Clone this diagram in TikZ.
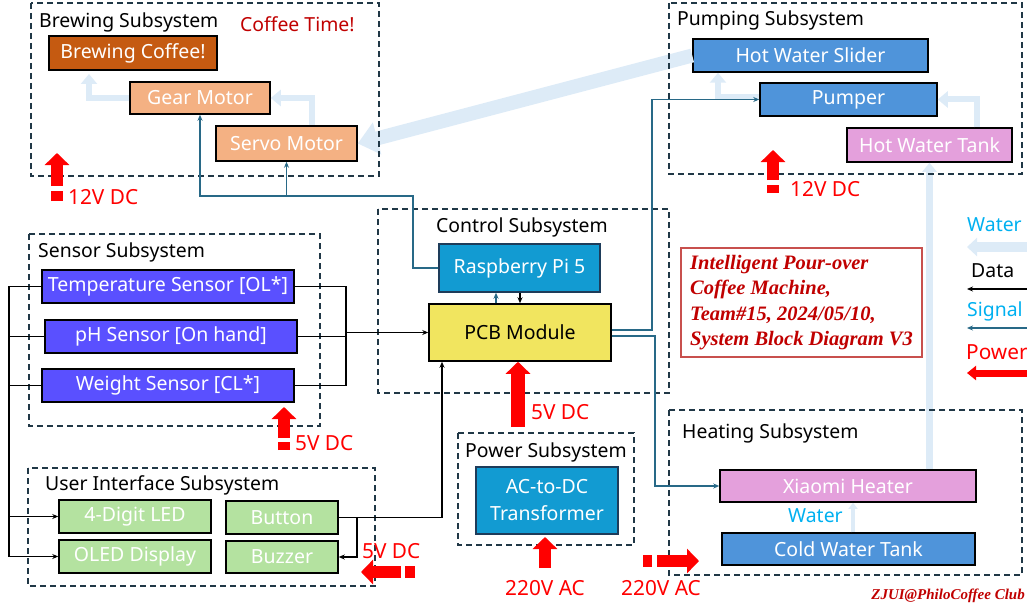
\documentclass[tikz,border=0pt]{standalone}
\usepackage{fontspec}
\setmainfont{Noto Sans}
\newfontfamily\infofont{Liberation Serif}
\usepackage{tikz}
\usetikzlibrary{arrows.meta}
\usepackage{xcolor}
\definecolor{cafe}{RGB}{197, 90, 17}
\definecolor{salmao}{RGB}{244, 177, 131}
\definecolor{azul}{RGB}{79, 148, 218}
\definecolor{rosa}{RGB}{228, 160, 220}
\definecolor{roxo}{RGB}{90, 80, 255}
\definecolor{ciano}{RGB}{18, 155, 210}
\definecolor{azulesc}{RGB}{30, 60, 90}
\definecolor{amarelo}{RGB}{241, 229, 95}
\definecolor{verde}{RGB}{180, 226, 160}
\definecolor{moldura}{RGB}{32, 55, 70}
\definecolor{vinho}{RGB}{192, 0, 0}
\definecolor{vermelhoclaro}{RGB}{200, 80, 77}
\definecolor{aguaclara}{RGB}{221, 235, 247}
\definecolor{aguatxt}{RGB}{0, 176, 240}
\definecolor{sinalcor}{RGB}{40, 105, 135}
\tikzset{
  agua/.style={draw=aguaclara, line width=6pt, -{Triangle[length=10pt, width=16pt]}},
  sinal/.style={draw=sinalcor, line width=1.3pt, -{Stealth[length=6pt, width=5pt]}},
  dados/.style={draw=black, line width=1.3pt, -{Stealth[length=6pt, width=5pt]}},
  energia/.style={draw=red, line width=12pt, -{Triangle[length=12pt, width=24pt]}},
}

\begin{document}
\begin{tikzpicture}[
    x=1pt, y=-1pt,
    caixa/.style={
        draw,
        line width=1.5pt,
        inner sep=0pt,
        minimum height=33pt,
        text=white,
        font=\fontsize{19.5}{27}\selectfont
    },
    titulo/.style={
        anchor=west,
        inner sep=0pt,
        font=\fontsize{19.4}{22}\selectfont
    },
    rotulo/.style={
        anchor=west,
        inner sep=0pt,
        text=red,
        font=\fontsize{20.8}{23}\selectfont
    },
    grupo/.style={
        draw=moldura,
        line width=1.5pt,
        dash pattern=on 6pt off 4pt
    }
]
\useasboundingbox (0,0) rectangle (1027,607);

% brewing
\node[caixa, fill=cafe, minimum width=168pt, minimum height=34pt] (brew) at (133,53) {Brewing Coffee!};
\node[caixa, fill=salmao, minimum width=140pt, minimum height=32pt] (gear) at (200,98) {Gear Motor};
\node[caixa, fill=salmao, minimum width=141pt, minimum height=35pt] (servo) at (286.5,143.5) {Servo Motor};

% pumping
\node[caixa, fill=azul, minimum width=235pt] (slider) at (810.5,55.5) {Hot Water Slider};
\node[caixa, fill=azul, minimum width=177pt] (pumper) at (848.5,99.5) {Pumper};
\node[caixa, fill=rosa, minimum width=165pt, minimum height=34pt] (hottank) at (929.5,145) {Hot Water Tank};

% sensors
\node[caixa, fill=roxo, minimum width=252pt] (temp) at (168,286.5) {Temperature Sensor [OL*]};
\node[caixa, fill=roxo, minimum width=252pt] (ph) at (171,336.5) {pH Sensor [On hand]};
\node[caixa, fill=roxo, minimum width=252pt] (weight) at (168,385.5) {Weight Sensor [CL*]};

% control
\node[caixa, fill=ciano, draw=azulesc, minimum width=161pt, minimum height=48pt] (raspi) at (519.5,268) {Raspberry Pi 5};
\node[caixa, fill=amarelo, text=black, minimum width=182pt, minimum height=57pt] (pcb) at (520,332.5) {PCB Module};

% power
\node[caixa, fill=ciano, draw=azulesc, minimum width=142pt, minimum height=67pt, align=center] (trafo) at (547,500.5) {AC-to-DC\\Transformer};

% heating
\node[caixa, fill=rosa, minimum width=256pt, minimum height=32pt] (heater) at (848,486) {Xiaomi Heater};
\node[caixa, fill=azul, minimum width=253pt, minimum height=32pt] (coldtank) at (848.5,549) {Cold Water Tank};

% user interface
\node[caixa, fill=verde, minimum width=152pt] (led) at (135,516.5) {4-Digit LED};
\node[caixa, fill=verde, minimum width=152pt] (oled) at (135,556.5) {OLED Display};
\node[caixa, fill=verde, minimum width=112pt] (button) at (282,517.5) {Button};
\node[caixa, fill=verde, minimum width=112pt, minimum height=32pt] (buzzer) at (282,557) {Buzzer};

% water
\coordinate (cup) at (89,74);
\draw[agua] (gear.west) -| (cup);
\draw[agua] ([xshift=25.5pt]servo.north) |- (gear.east);
\draw[agua, line width=14pt, -{Triangle[length=20pt, width=32pt]}] (slider.west) -- (servo.east);
\draw[agua] ([yshift=2pt]pumper.west) -| ([xshift=-92.5pt]slider.south);
\draw[agua] ([xshift=47.5pt]hottank.north) |- (pumper.east);
\draw[agua, line width=7pt, -{Triangle[length=9pt, width=14pt]}] (heater.north -| hottank.south) -- (hottank.south);
\draw[agua, line width=4pt, -{Triangle[length=6pt, width=9pt]}] ([xshift=4.5pt]coldtank.north) -- ([xshift=4.5pt]coldtank.north |- heater.south);
\node[titulo, text=aguatxt] (lwater) at (788,516) {Water};

% subsystems
\draw[grupo] (31,3) rectangle (379,176);
\draw[grupo] (669,3) rectangle (1022,174);
\draw[grupo] (29,234) rectangle (320,426);
\draw[grupo] (378,209) rectangle (669,393);
\draw[grupo] (28,468) rectangle (375,586);
\draw[grupo] (458,433) rectangle (634,545);
\draw[grupo] (669,410) rectangle (1022,575);

\node[titulo] (tbrew) at (39,22) {Brewing Subsystem};
\node[titulo, text=vinho] (ttime) at (240,24) {Coffee Time!};
\node[titulo] (tpump) at (677,20) {Pumping Subsystem};
\node[titulo] (tsens) at (38,252) {Sensor Subsystem};
\node[titulo] (tctrl) at (436,227) {Control Subsystem};
\node[titulo] (tui) at (45,485) {User Interface Subsystem};
\node[titulo] (tpow) at (465,452) {Power Subsystem};
\node[titulo] (theat) at (682,433) {Heating Subsystem};

% signal
\coordinate (sigbus) at (413,196);
\draw[sinal] (raspi.west) -| (sigbus) -| (gear.south);
\draw[sinal] (servo.south |- sigbus) -- (servo.south);
\draw[sinal] ([xshift=-24pt]pcb.north) -- ([xshift=-23.5pt]raspi.south);
\coordinate (sp) at (652,0);
\coordinate (sh) at (655,0);
\draw[sinal] ([yshift=2.5pt]pcb.east) -| (sp |- pumper.west) -- (pumper.west);
\draw[sinal] ([yshift=-3.5pt]pcb.east) -| (sh |- heater.west) -- (heater.west);

% data
\draw[dados] ([xshift=0.5pt]raspi.south) -- (pcb.north);
\coordinate (sbus) at (346,332.5);
\draw[dados, -] (temp.east) -| (sbus);
\draw[dados, -] (weight.east) -| (sbus);
\draw[dados, -] (ph.east) -- (ph.east -| sbus);
\draw[dados] (sbus) -- (pcb.west);
\coordinate (bus) at (9,420);
\draw[dados] (temp.west) -| (bus |- oled.west) -- (oled.west);
\draw[dados, -] (ph.west) -- (ph.west -| bus);
\draw[dados, -] (weight.west) -- (weight.west -| bus);
\draw[dados] (led.west -| bus) -- (led.west);
\coordinate (bz) at (357,0);
\draw[dados] (button.east) -| (bz |- buzzer.east) -- (buzzer.east);
\draw[dados] (button.east) -| ([xshift=-78pt]pcb.south);

% power
\coordinate (pb1) at (57,201);
\coordinate (pb2) at (57,153);
\draw[energia, dash pattern=on 10pt off 5pt on 100pt] (pb1) -- (pb2);
\node[rotulo] (lbrew) at (68,197) {12V DC};
\coordinate (pp1) at (773,193);
\coordinate (pp2) at (773,150);
\draw[energia, dash pattern=on 8pt off 5pt on 100pt] (pp1) -- (pp2);
\node[rotulo] (lpump) at (790,189) {12V DC};
\coordinate (ps1) at (284,450);
\coordinate (ps2) at (284,407);
\draw[energia, dash pattern=on 8pt off 4pt on 100pt] (ps1) -- (ps2);
\node[rotulo] (lsens) at (295,443) {5V DC};
\coordinate (pc1) at (518,427);
\draw[energia, line width=14pt] (pc1) -- (pc1 |- pcb.south);
\node[rotulo] (lctrl) at (531,412) {5V DC};
\coordinate (pt1) at (545,568);
\coordinate (pt2) at (545,537);
\draw[energia] (pt1) -- (pt2);
\node[rotulo, anchor=center] (lpow) at (545,588) {220V AC};
\coordinate (pu1) at (415,572);
\coordinate (pu2) at (361,572);
\draw[energia, dash pattern=on 10pt off 4pt on 100pt] (pu1) -- (pu2);
\node[rotulo] (lui) at (362,551) {5V DC};
\coordinate (ph1) at (643,561);
\coordinate (ph2) at (699,561);
\draw[energia, dash pattern=on 9pt off 5pt on 100pt] (ph1) -- (ph2);
\node[rotulo, anchor=center] (lheat) at (661,588) {220V AC};

% note
\node[draw=vermelhoclaro, line width=1.5pt, inner sep=0pt, minimum width=241pt, minimum height=109pt,
      text=vinho, align=left, font=\infofont\bfseries\itshape\fontsize{20.5}{25.5}\selectfont] (info) at (801.5,302.5)
{Intelligent Pour-over\\Coffee Machine,\\Team\#15, 2024/05/10,\\System Block Diagram V3};
\node[anchor=east, inner sep=0pt, text=vinho, font=\infofont\bfseries\itshape\fontsize{15}{17}\selectfont] (club) at (1025,596) {ZJUI@PhiloCoffee Club};

% legend
\node[titulo, text=aguatxt] (kwater) at (967,225) {Water};
\coordinate (ka1) at (1027,247);
\coordinate (ka2) at (967,247);
\draw[agua, line width=10pt, -{Triangle[length=10pt, width=18pt]}] (ka1) -- (ka2);
\node[titulo] (kdata) at (971,271) {Data};
\coordinate (kd1) at (1027,289);
\coordinate (kd2) at (967,289);
\draw[dados] (kd1) -- (kd2);
\node[titulo, text=aguatxt] (ksignal) at (967,311) {Signal};
\coordinate (ks1) at (1027,328);
\coordinate (ks2) at (967,328);
\draw[sinal] (ks1) -- (ks2);
\node[rotulo] (kpower) at (966,352) {Power};
\coordinate (kp1) at (1027,373);
\coordinate (kp2) at (967,373);
\draw[energia, line width=7pt, -{Triangle[length=9pt, width=14pt]}] (kp1) -- (kp2);

\end{tikzpicture}
\end{document}
